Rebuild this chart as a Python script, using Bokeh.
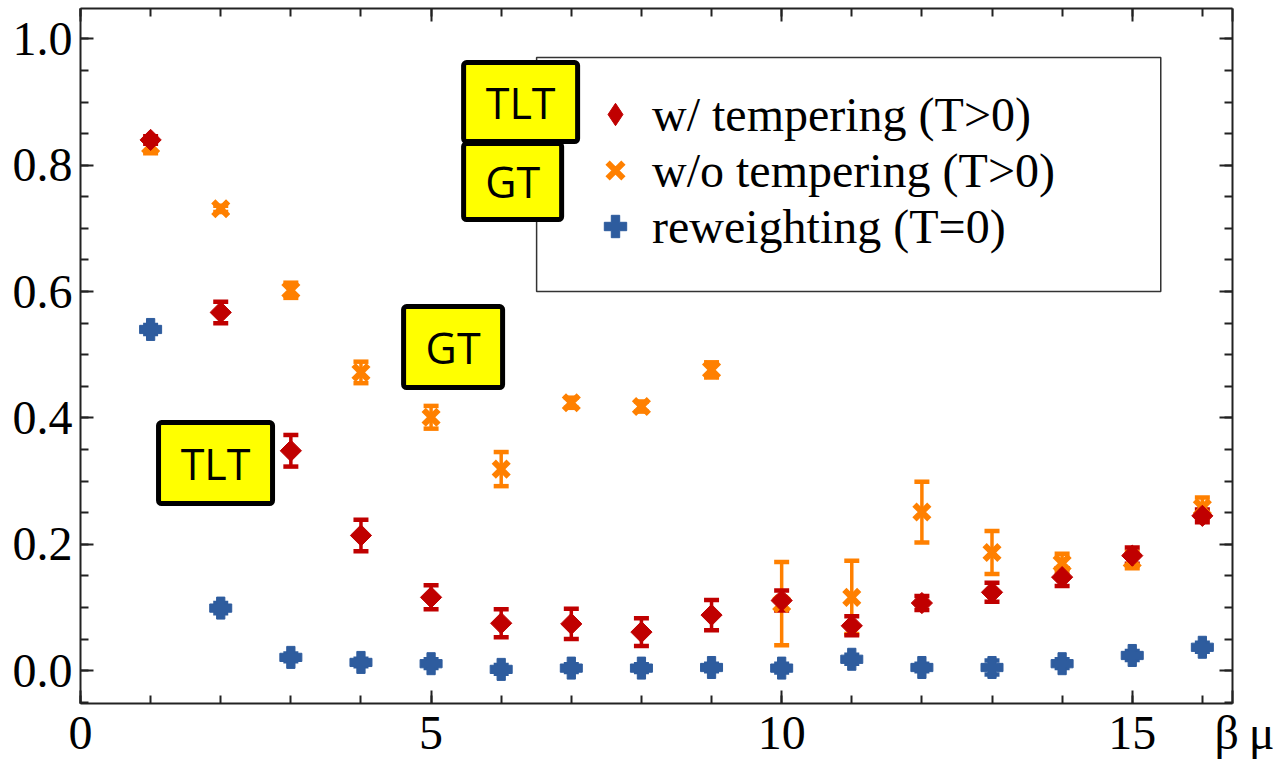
from bokeh.plotting import figure
from bokeh.models import (ColumnDataSource, Range1d, LinearAxis, SingleIntervalTicker,
                          FixedTicker, Whisker, TeeHead, Legend, LegendItem, BoxAnnotation,
                          Label, PrintfTickFormatter, CustomJSTickFormatter)
from bokeh.embed import file_html
from bokeh.resources import INLINE
import math

# ---------------- data ----------------
beta_mu = [1, 2, 3, 4, 5, 6, 7, 8, 9, 10, 11, 12, 13, 14, 15, 16]

tempering = [0.840, 0.567, 0.348, 0.214, 0.116, 0.075, 0.074, 0.061,
             0.088, 0.111, 0.071, 0.107, 0.124, 0.148, 0.182, 0.245]
tempering_err = [0.006, 0.017, 0.025, 0.025, 0.019, 0.022, 0.024, 0.022,
                 0.024, 0.016, 0.015, 0.011, 0.015, 0.014, 0.013, 0.010]

no_tempering = [0.831, 0.731, 0.602, 0.472, 0.401, 0.319, 0.424, 0.418,
                0.476, 0.106, 0.116, 0.251, 0.187, 0.170, 0.175, 0.258]
no_tempering_err = [0.012, 0.005, 0.012, 0.017, 0.018, 0.027, 0.008, 0.008,
                    0.012, 0.066, 0.058, 0.048, 0.034, 0.015, 0.013, 0.016]

reweighting = [0.540, 0.099, 0.021, 0.013, 0.011, 0.002, 0.004, 0.004,
               0.005, 0.004, 0.018, 0.005, 0.005, 0.011, 0.024, 0.037]
reweighting_err = [0.007, 0.008, 0.006, 0.006, 0.007, 0.007, 0.006, 0.006,
                   0.006, 0.007, 0.007, 0.006, 0.011, 0.007, 0.007, 0.007]

series_labels = ["w/ tempering (T>0)", "w/o tempering (T>0)", "reweighting (T=0)"]
x_major_ticks = [0, 5, 10, 15]
x_minor_ticks = list(range(0, 17))
x_label = "β\u2009μ"

# annotation boxes: (text, left, right, top, bottom) in axis units
boxes = [
    ("TLT", 5.464, 7.090, 0.9625, 0.8374),
    ("GT", 5.464, 6.862, 0.8343, 0.7140),
    ("GT", 4.608, 6.020, 0.5762, 0.4480),
    ("TLT", 1.113, 2.739, 0.3926, 0.2644),
]
# legend frame (left, right, top, bottom) in axis units
legend_frame = (6.505, 15.407, 0.9704, 0.6000)

# ---------------- styles ----------------
RED = "#c00000"
ORANGE = "#ff8000"
BLUE = "#2e5c9e"
AXIS = "#222222"
SERIF = "Liberation Serif"
X_END = 16.43

p = figure(width=1282, height=761, output_backend="svg", toolbar_location=None,
           x_range=Range1d(0, X_END), y_range=Range1d(-0.052, 1.048),
           min_border_left=80, min_border_right=50, min_border_top=8,
           min_border_bottom=58)
p.xgrid.visible = False
p.ygrid.visible = False
p.outline_line_color = None
p.background_fill_color = "white"
p.border_fill_color = "white"

# the axis-name sits at the right end of the bottom axis, like the reference
x_ticker = FixedTicker(ticks=x_major_ticks + [X_END], minor_ticks=x_minor_ticks)
y_ticker = SingleIntervalTicker(interval=0.2, num_minor_ticks=4)
blank = CustomJSTickFormatter(code="return ''")


def style_axis(ax, show):
    ax.axis_line_color = AXIS
    ax.axis_line_width = 2
    ax.major_tick_in = 13
    ax.major_tick_out = 0
    ax.minor_tick_in = 8
    ax.minor_tick_out = 0
    ax.major_tick_line_color = AXIS
    ax.minor_tick_line_color = AXIS
    ax.major_tick_line_width = 2
    ax.minor_tick_line_width = 2
    ax.major_label_text_font = SERIF
    ax.major_label_text_font_size = "48px"
    ax.major_label_text_color = "black"
    if not show:
        ax.formatter = blank
        ax.major_label_standoff = 0


xa = p.xaxis[0]
xa.ticker = x_ticker
style_axis(xa, True)
xa.major_label_standoff = 2
xa.major_label_overrides = {X_END: "\u2002" + x_label}

ya = p.yaxis[0]
ya.ticker = y_ticker
ya.formatter = PrintfTickFormatter(format="%.1f")
style_axis(ya, True)
ya.major_label_standoff = 8

top_ax = LinearAxis(ticker=x_ticker)
style_axis(top_ax, False)
p.add_layout(top_ax, "above")
right_ax = LinearAxis(ticker=y_ticker)
style_axis(right_ax, False)
p.add_layout(right_ax, "right")


def make_source(vals, errs):
    return ColumnDataSource(dict(
        x=beta_mu, y=vals,
        upper=[v + e for v, e in zip(vals, errs)],
        lower=[v - e for v, e in zip(vals, errs)]))


def add_whisker(src, color):
    w = Whisker(source=src, base="x", upper="upper", lower="lower", dimension="height",
                line_color=color, line_width=3.5,
                upper_head=TeeHead(size=15, line_color=color, line_width=4.5),
                lower_head=TeeHead(size=15, line_color=color, line_width=4.5))
    p.add_layout(w)


src_o = make_source(no_tempering, no_tempering_err)
src_r = make_source(tempering, tempering_err)
src_b = make_source(reweighting, reweighting_err)

add_whisker(src_o, ORANGE)
add_whisker(src_r, RED)
add_whisker(src_b, BLUE)

r_o = p.scatter("x", "y", source=src_o, marker="x", size=21, line_color=ORANGE, line_width=6)
r_r = p.scatter("x", "y", source=src_r, marker="square", angle=math.pi / 4, size=15,
                fill_color=RED, line_color=RED, line_width=1)
r_b = p.scatter("x", "y", source=src_b, marker="plus", size=22,
                fill_color=BLUE, line_color=BLUE, line_width=1)
# legend key for the diamond series (hidden in the plot, shown in the legend)
r_key = p.scatter("x", "y", source=src_r, marker="diamond", size=22,
                  fill_color=RED, line_color=RED, visible=False)

# legend frame drawn underneath the yellow boxes
lf_left, lf_right, lf_top, lf_bottom = legend_frame
p.add_layout(BoxAnnotation(left=lf_left, right=lf_right, top=lf_top, bottom=lf_bottom,
                           fill_color="white", fill_alpha=1.0, line_color="#333333",
                           line_alpha=1.0, line_width=1.5, level="annotation"))

legend = Legend(items=[LegendItem(label=series_labels[0], renderers=[r_key]),
                       LegendItem(label=series_labels[1], renderers=[r_o]),
                       LegendItem(label=series_labels[2], renderers=[r_b])],
                location=(499, 449), orientation="vertical",
                label_text_font=SERIF, label_text_font_size="48px", label_text_color="black",
                label_height=56, glyph_height=56, glyph_width=72, label_standoff=1,
                label_width=440, padding=0, spacing=0, margin=0,
                border_line_color=None, background_fill_alpha=0.0,
                inactive_fill_alpha=0.0)
p.add_layout(legend)

for text, left, right, top, bottom in boxes:
    p.add_layout(BoxAnnotation(left=left, right=right, top=top, bottom=bottom,
                               fill_color="#ffff00", fill_alpha=1.0,
                               line_color="black", line_alpha=1.0, line_width=5,
                               border_radius=3, level="overlay"))
for text, left, right, top, bottom in boxes:
    p.add_layout(Label(x=(left + right) / 2, y=(top + bottom) / 2, text=text,
                       text_align="center", text_baseline="middle",
                       text_font="Open Sans", text_font_size="43px", text_color="black",
                       level="overlay"))

open("out.html", "w").write(file_html(p, INLINE))
